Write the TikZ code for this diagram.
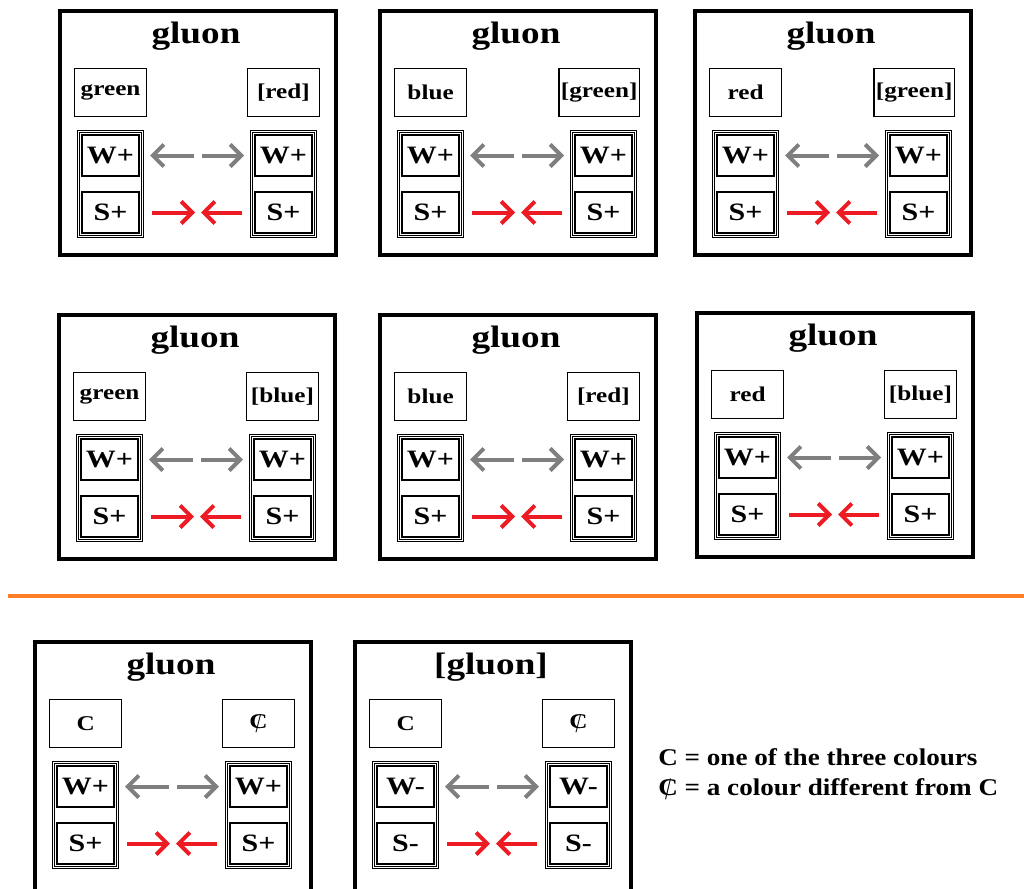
\documentclass[tikz,border=0pt]{standalone}
\usepackage{fontspec}
\setmainfont{Liberation Serif}[FakeStretch=1.2]
\newfontfamily\leyfont{Liberation Serif}[FakeStretch=1.13]
\usepackage{tikz}
\usetikzlibrary{positioning, fit, arrows.meta}
\definecolor{naranja}{RGB}{255,127,39}
\definecolor{rojo}{RGB}{237,28,36}
\definecolor{gris}{RGB}{127,127,127}
\newcommand\Cbarra{\ooalign{C\cr\hidewidth\raisebox{-0.15em}{\mdseries\scalebox{0.8}[1.3]{/}}\hidewidth}}

\begin{document}
\begin{tikzpicture}[x=1pt, y=-1pt, semithick,
    panel/.style={draw, line width=4pt, minimum width=276pt, inner sep=0pt},
    titulo/.style={font=\fontsize{31}{36}\selectfont\bfseries},
    etiqueta/.style={draw, line width=1.2pt, minimum width=72pt,
      minimum height=48pt, inner sep=2pt,
      font=\fontsize{21}{24}\selectfont\bfseries},
    caja/.style={draw, line width=2pt, minimum width=57pt,
      minimum height=41pt, font=\fontsize{25}{28}\selectfont\bfseries},
    marco/.style={draw, double, double distance=1.2pt, line width=0.9pt,
      inner sep=2.5pt},
    flechagris/.style={-{Straight Barb[length=11pt, width=22pt]},
      draw=gris, line width=4pt, shorten >=10pt},
    flecharoja/.style={-{Straight Barb[length=11pt, width=22pt]},
      draw=rojo, line width=4pt, shorten <=12pt}]

  \clip (0,0) rectangle (1024,888);

  % Los ocho cuadros del gluon.
  \foreach \i/\px/\py/\h/\a/\b/\t/\s in {
      1/198/133/244/green/{[red]}/gluon/+, 2/518/133/244/blue/{[green]}/gluon/+,
      3/833/133/244/red/{[green]}/gluon/+, 4/197/437/244/green/{[blue]}/gluon/+,
      5/518/437/244/blue/{[red]}/gluon/+, 6/835/435/244/red/{[blue]}/gluon/+,
      7/173/772/260/C/\Cbarra/gluon/+, 8/493/772/260/C/\Cbarra/{[gluon]}/-}{
    \node[panel, minimum height=\h pt] (p\i) at (\px,\py) {};
    \node[titulo] (t\i) at ([xshift=-2pt, yshift=-27pt]p\i.north) {\t};
    \node[etiqueta, below right=59pt and 16pt of p\i.north west] (cl\i) {\a};
    \node[etiqueta, below left=59pt and 18pt of p\i.north east] (cr\i) {\b};
    \node[caja, below right=125pt and 23pt of p\i.north west] (wl\i) {W\s};
    \node[caja, below=14pt of wl\i] (sl\i) {S\s};
    \node[caja, below left=125pt and 25pt of p\i.north east] (wr\i) {W\s};
    \node[caja, below=14pt of wr\i] (sr\i) {S\s};
    \node[marco, fit=(wl\i)(sl\i)] (fl\i) {};
    \node[marco, fit=(wr\i)(sr\i)] (fr\i) {};

    % Flechas entre las dos columnas.
    \coordinate (mw\i) at (wl\i -| p\i);
    \coordinate (ms\i) at (sl\i -| p\i);
    \draw[flechagris] ([xshift=-4pt]mw\i) -- (wl\i);
    \draw[flechagris] ([xshift=4pt]mw\i) -- (wr\i);
    \draw[flecharoja] (sl\i) -- ([xshift=-3pt]ms\i);
    \draw[flecharoja] (sr\i) -- ([xshift=3pt]ms\i);
  }

  % Separador y leyenda.
  \draw[naranja, line width=4pt] (8,596) -- (1024,596);
  \node[anchor=west, align=left, inner sep=0pt,
    font=\leyfont\fontsize{24}{30}\selectfont\bfseries] (ley) at (658,774)
    {C = one of the three colours\\ \Cbarra{} = a colour different from C};
\end{tikzpicture}
\end{document}
